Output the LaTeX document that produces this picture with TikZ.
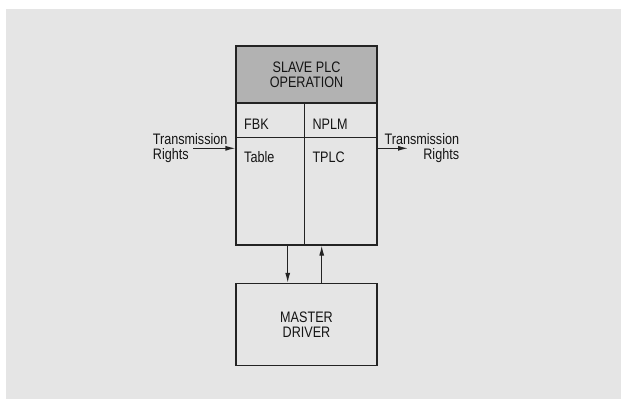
\documentclass[tikz,border=0pt]{standalone}
\usepackage{fontspec}
\setmainfont{Liberation Sans}[FakeStretch=0.83]
\usetikzlibrary{arrows.meta}
\definecolor{bgc}{RGB}{229,229,229}
\definecolor{hdrc}{RGB}{178,178,178}
\definecolor{linec}{RGB}{35,35,35}
\definecolor{txtc}{RGB}{20,20,20}
\tikzset{
  lbl/.style={font=\fontsize{15.2bp}{15bp}\selectfont, inner sep=0pt, text=txtc},
  box/.style={draw=linec, line width=1.1bp, inner sep=0pt, minimum width=141bp},
  divline/.style={draw=linec, line width=1.1bp},
  arr/.style={draw=linec, line width=1.1bp, -{Latex[length=10bp,width=5bp]}}
}
\begin{document}
\begin{tikzpicture}[x=1bp,y=-1bp]
\useasboundingbox (0,0) rectangle (621,399);
\fill[bgc] (6,9) rectangle (621,399);
% slave block
\node[box, minimum height=199bp] (slave) at (306.5,145.5) {};
\node[box, lbl, fill=hdrc, minimum height=57bp, anchor=north, align=center] (hdr) at (slave.north) {SLAVE PLC\\OPERATION};
\coordinate (rowy) at (0,137.3);
\coordinate (colx) at (304.3,0);
\draw[divline] (slave.west |- rowy) -- (slave.east |- rowy);
\draw[divline] (colx |- hdr.south) -- (colx |- slave.south);
\node[lbl, anchor=base west] (fbk) at (244,129) {FBK};
\node[lbl, anchor=base west] (nplm) at (312.3,129) {NPLM};
\node[lbl, anchor=base west] (table) at (244,162.3) {Table};
\node[lbl, anchor=base west] (tplc) at (312.3,162.3) {TPLC};
% master block
\node[box, lbl, minimum height=81.7bp, align=center] (master) at (306.5,324.2) {MASTER\\DRIVER};
% vertical arrows
\coordinate (xd) at (287.7,0);
\coordinate (xu) at (321.7,0);
\draw[arr] (xd |- slave.south) -- (xd |- master.north);
\draw[arr] (xu |- master.north) -- (xu |- slave.south);
% transmission rights
\node[lbl, align=left, anchor=west] (tin) at (152.7,147.6) {Transmission\\Rights};
\coordinate (ain) at (193.3,148.3);
\draw[arr] (ain) -- (ain -| slave.west);
\node[lbl, align=right, anchor=east] (tout) at (459.3,147.6) {Transmission\\Rights};
\coordinate (aout) at (408,148.3);
\draw[arr] (aout -| slave.east) -- (aout);
\end{tikzpicture}
\end{document}
